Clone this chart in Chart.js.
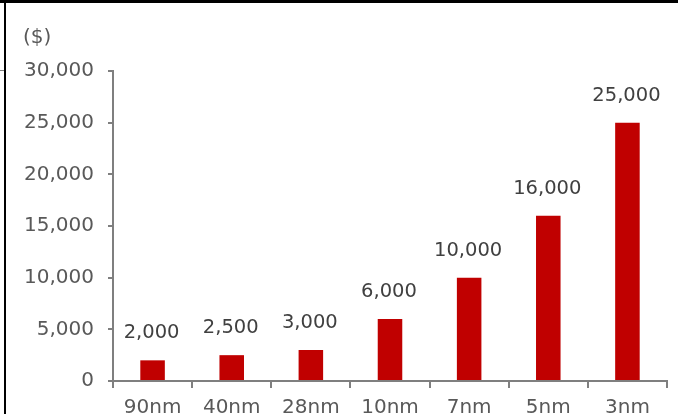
<!DOCTYPE html>
<html><head><meta charset="utf-8">
<script src="https://cdn.jsdelivr.net/npm/chart.js@4"></script>
<style>html,body{margin:0;padding:0;background:#fff;}#wrap{width:678px;height:414px;position:relative;}</style>
</head><body><div id="wrap"><canvas id="c" width="678" height="414"></canvas></div>
<script>
const categories = ["90nm","40nm","28nm","10nm","7nm","5nm","3nm"];
const costs = [2000,2500,3000,6000,10000,16000,25000];
const yTicks = [0,5000,10000,15000,20000,25000,30000];
const unitLabel = "($)";

const fmt = v => v.toLocaleString('en-US');

const framePlugin = {
  id:'frame',
  afterDraw(chart){
    const ctx = chart.ctx;
    ctx.save();
    ctx.fillStyle = '#000';
    ctx.fillRect(0,0,678,3);
    ctx.fillRect(4,0,2,414);
    ctx.strokeStyle = '#7f7f7f';
    ctx.lineWidth = 1;
    ctx.beginPath(); ctx.moveTo(0,70.5); ctx.lineTo(4,70.5); ctx.stroke();
    ctx.fillStyle = '#595959';
    ctx.font = '20px "DejaVu Sans"';
    ctx.textAlign = 'left';
    ctx.textBaseline = 'middle';
    ctx.fillText(unitLabel, 23, 38);
    ctx.restore();
  }
};
const valueLabels = {
  id:'valueLabels',
  afterDatasetsDraw(chart){
    const ctx = chart.ctx;
    const meta = chart.getDatasetMeta(0);
    ctx.save();
    ctx.fillStyle = '#404040';
    ctx.font = '19.5px "DejaVu Sans"';
    ctx.textAlign = 'center';
    ctx.textBaseline = 'middle';
    meta.data.forEach((bar,i)=>{
      ctx.fillText(fmt(chart.data.datasets[0].data[i]), bar.x - 1, bar.y - 27);
    });
    ctx.restore();
  }
};

Chart.defaults.font.family = '"DejaVu Sans"';
Chart.defaults.font.size = 20;
new Chart(document.getElementById('c'), {
  type:'bar',
  data:{labels:categories, datasets:[{data:costs, backgroundColor:'#C00000', borderWidth:0, categoryPercentage:1, barPercentage:0.31}]},
  options:{
    responsive:false, animation:false,
    layout:{padding:{top:71,right:11,left:0,bottom:0}},
    plugins:{legend:{display:false}, tooltip:{enabled:false}},
    scales:{
      x:{
        grid:{display:true, drawOnChartArea:false, drawTicks:true, tickLength:7, color:'#7f7f7f', lineWidth:2, offset:true},
        border:{display:true, color:'#7f7f7f', width:2},
        ticks:{color:'#595959', padding:8, font:{size:20}, maxRotation:0, autoSkip:false},
        afterFit(s){ s.height = 33; }
      },
      y:{
        min:0, max:30000,
        afterBuildTicks(s){ s.ticks = yTicks.map(v=>({value:v})); },
        grid:{display:true, drawOnChartArea:false, drawTicks:true, tickLength:5, color:'#7f7f7f', lineWidth:2},
        border:{display:true, color:'#7f7f7f', width:2},
        ticks:{color:'#595959', padding:14, font:{size:20}, callback:v=>fmt(v)},
        afterFit(s){ s.width = 113; }
      }
    }
  },
  plugins:[framePlugin, valueLabels]
});
</script></body></html>
